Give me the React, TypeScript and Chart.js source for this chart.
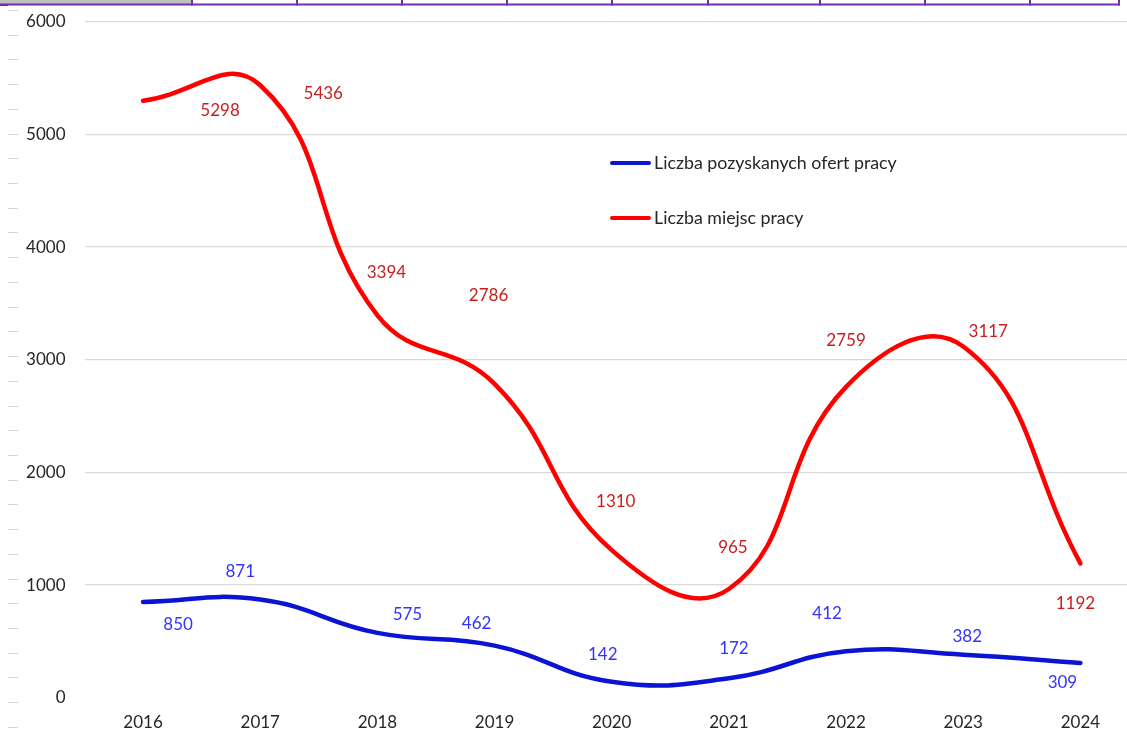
import React, { useEffect, useRef } from "react";
import { Chart, registerables } from "chart.js";

Chart.register(...registerables);

const years = ["2016", "2017", "2018", "2019", "2020", "2021", "2022", "2023", "2024"];
const ofertyValues = [850, 871, 575, 462, 142, 172, 412, 382, 309];
const miejscaValues = [5298, 5436, 3394, 2786, 1310, 965, 2759, 3117, 1192];
const seriesNames = ["Liczba pozyskanych ofert pracy", "Liczba miejsc pracy"];
const yMin = 0;
const yMax = 6000;
const yStep = 1000;

// label placement (offset of label centre from its point, px)
const ofertyLabelOffsets = [[35, 23], [-20, -28], [30, -18], [-18, -22], [-9, -27], [5, -30], [-19, -38], [4, -18], [-18, 20]];
const miejscaLabelOffsets = [[77, 10], [63, 8], [9, -43], [-6, -88], [4, -49], [4, -41], [0, -46], [25, -15], [-5, 40]];

const BLUE = "#0a14d2";
const RED = "#ff0000";
const BLUE_LABEL = "#3333ff";
const RED_LABEL = "#c8201e";
const FONT = "Lato, 'Liberation Sans', sans-serif";

const decoPlugin = {
  id: "deco",
  beforeDraw(chart: any) {
    const ctx = chart.ctx;
    ctx.save();
    ctx.fillStyle = "#ffffff";
    ctx.fillRect(0, 0, chart.width, chart.height);
    // spreadsheet header strip
    ctx.fillStyle = "#bfbfbf";
    ctx.fillRect(0, 0, 192, 4);
    ctx.strokeStyle = "#7030a0";
    ctx.lineWidth = 2;
    ctx.beginPath();
    ctx.moveTo(0, 4.5);
    ctx.lineTo(1120, 4.5);
    ctx.stroke();
    ctx.fillStyle = "#7030a0";
    ctx.fillRect(0, 4, 8, 2);
    const cols = [192, 297, 402, 507, 612, 708, 820, 925, 1030, 1119];
    cols.forEach((x) => {
      ctx.beginPath();
      ctx.moveTo(x, 0);
      ctx.lineTo(x, 5.5);
      ctx.stroke();
    });
    // row markers on the left
    ctx.strokeStyle = "#d4d4d4";
    ctx.lineWidth = 1;
    for (let y = 10; y < 740; y += 24.72) {
      const yy = Math.round(y) + 0.5;
      ctx.beginPath();
      ctx.moveTo(8, yy);
      ctx.lineTo(18, yy);
      ctx.stroke();
    }
    ctx.restore();
  },
};

const labelsPlugin = {
  id: "valueLabels",
  afterDatasetsDraw(chart: any) {
    const ctx = chart.ctx;
    const offsets = [ofertyLabelOffsets, miejscaLabelOffsets];
    const colors = [BLUE_LABEL, RED_LABEL];
    ctx.save();
    ctx.font = `17px ${FONT}`;
    ctx.textAlign = "center";
    ctx.textBaseline = "middle";
    chart.data.datasets.forEach((ds: any, di: number) => {
      const meta = chart.getDatasetMeta(di);
      ctx.fillStyle = colors[di];
      meta.data.forEach((pt: any, i: number) => {
        const [dx, dy] = offsets[di][i];
        ctx.fillText(String(ds.data[i]), pt.x + dx, pt.y + dy);
      });
    });
    ctx.restore();
  },
};

const legendPlugin = {
  id: "insideLegend",
  afterDraw(chart: any) {
    const ctx = chart.ctx;
    const rows = [163, 218];
    ctx.save();
    ctx.font = `17.8px ${FONT}`;
    ctx.textBaseline = "middle";
    ctx.textAlign = "left";
    chart.data.datasets.forEach((ds: any, i: number) => {
      const y = rows[i];
      ctx.strokeStyle = ds.borderColor;
      ctx.lineWidth = 4;
      ctx.lineCap = "round";
      ctx.beginPath();
      ctx.moveTo(612, y);
      ctx.lineTo(649, y);
      ctx.stroke();
      ctx.fillStyle = "#262626";
      ctx.fillText(ds.label, 654, y);
    });
    ctx.restore();
  },
};

export default function App() {
  const ref = useRef<HTMLCanvasElement | null>(null);
  useEffect(() => {
    if (!ref.current) return;
    const chart = new Chart(ref.current, {
      type: "line",
      data: {
        labels: years,
        datasets: [
          {
            label: seriesNames[0],
            data: ofertyValues,
            borderColor: BLUE,
            backgroundColor: BLUE,
            borderWidth: 4.5,
            tension: 0.45,
            pointRadius: 0,
            borderCapStyle: "round",
            fill: false,
          },
          {
            label: seriesNames[1],
            data: miejscaValues,
            borderColor: RED,
            backgroundColor: RED,
            borderWidth: 4.5,
            tension: 0.45,
            pointRadius: 0,
            borderCapStyle: "round",
            fill: false,
          },
        ],
      },
      options: {
        responsive: false,
        animation: false,
        devicePixelRatio: 1,
        layout: { padding: { top: 21.7, left: 0, right: 0, bottom: 0 } },
        plugins: {
          legend: { display: false },
          tooltip: { enabled: false },
        },
        scales: {
          x: {
            offset: true,
            grid: { display: false, drawTicks: false },
            border: { display: false },
            ticks: {
              color: "#262626",
              font: { family: FONT, size: 17 },
              padding: 15,
              maxRotation: 0,
            },
            afterFit(scale: any) {
              scale.height = 51.3;
            },
          },
          y: {
            min: yMin,
            max: yMax,
            grid: {
              color: (c: any) => (c.tick && c.tick.value === 0 ? "rgba(0,0,0,0)" : "#d9d9d9"),
              lineWidth: 1.3,
              drawTicks: true,
              tickLength: 19,
              tickColor: "rgba(0,0,0,0)",
            },
            border: { display: false },
            ticks: {
              stepSize: yStep,
              color: "#262626",
              font: { family: FONT, size: 17 },
              padding: 0,
              callback: (v: any) => String(v),
            },
            afterFit(scale: any) {
              scale.width = 84.5;
            },
          },
        },
      },
      plugins: [decoPlugin, labelsPlugin, legendPlugin],
    });
    return () => chart.destroy();
  }, []);

  return (
    <div
      style={{
        position: "fixed",
        left: 0,
        top: 0,
        width: 1127,
        height: 749,
        overflow: "hidden",
        background: "#fff",
      }}
    >
      <canvas ref={ref} width={1139} height={749} style={{ display: "block", width: 1139, height: 749 }} />
    </div>
  );
}
